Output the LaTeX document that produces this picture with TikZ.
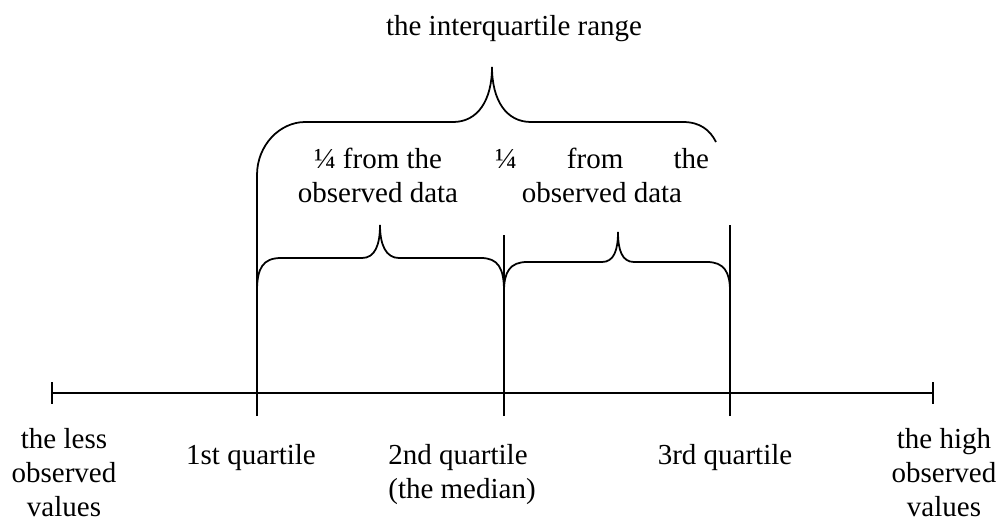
\documentclass[tikz,border=0pt]{standalone}
\usepackage{fontspec}
\setmainfont{Liberation Serif}
\usetikzlibrary{positioning, calc}

\begin{document}
\begin{tikzpicture}[x=0.02cm, y=-0.02cm, line width=1pt,
    lbl/.style={font=\fontsize{16.5}{19.3}\selectfont, inner sep=0pt, align=center, anchor=base}]
    \useasboundingbox (0,0) rectangle (999,522);

    % number line with end ticks
    \coordinate (axl) at (52,393);
    \coordinate (axr) at (933,393);
    \draw[line width=1.6pt] (axl) -- (axr);
    \draw ($(axl)+(0,-11)$) -- ($(axl)+(0,11)$);
    \draw ($(axr)+(0,-11)$) -- ($(axr)+(0,11)$);

    % quartile lines
    \foreach \x/\top/\name in {257/175/qa, 504/235/qb, 730/225/qc} {
        \coordinate (\name) at (\x,416);
        \draw (\name) -- (\x,\top);
    }

    % big brace
    \draw (257,175) .. controls (257,145) and (280,122) .. (305,122) -- (453,122)
        .. controls (478,122) and (492,100) .. (492,67)
        .. controls (492,100) and (506,122) .. (531,122) -- (683,122)
        .. controls (700,122) and (710,130) .. (716,142);

    % small braces
    \draw (257,291) .. controls (257,268) and (263,258) .. (281,258) -- (362,258)
        .. controls (375,258) and (380,245) .. (380,225)
        .. controls (380,245) and (386,258) .. (399,258) -- (481,258)
        .. controls (498,258) and (504,268) .. (504,291);
    \draw (504,291) .. controls (504,272) and (510,262) .. (527,262) -- (602,262)
        .. controls (614,262) and (618,250) .. (618,232)
        .. controls (618,250) and (622,262) .. (634,262) -- (707,262)
        .. controls (724,262) and (730,272) .. (730,291);

    % labels (multi-line: base = last line)
    \node[lbl] (iqr) at (514,35) {the interquartile range};
    \node[lbl] (lefthalf) at (378,202) {¼ from the\\observed data};
    \node[lbl] (righthalf) at (602,202) {\makebox[4.28cm][s]{¼ from the}\\observed data};
    \node[lbl] (lowval) at (64,516) {the less\\observed\\values};
    \node[lbl] (first) at (251,464) {1st quartile};
    \node[lbl, align=left] (second) at (462,498) {2nd quartile\\(the median)};
    \node[lbl] (third) at (725,464) {3rd quartile};
    \node[lbl] (highval) at (944,516) {the high\\observed\\values};
\end{tikzpicture}
\end{document}
